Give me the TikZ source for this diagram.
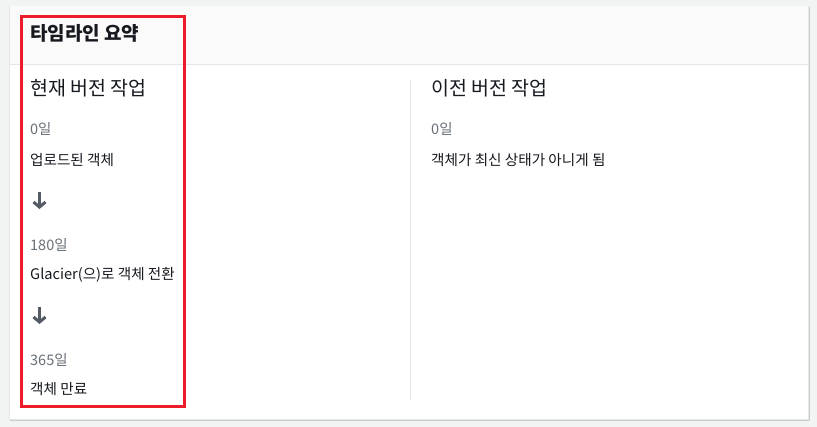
\documentclass[tikz,border=0pt]{standalone}
\usepackage{fontspec}
\setmainfont{Noto Sans CJK KR}
\usetikzlibrary{arrows.meta}

\definecolor{pagegray}{HTML}{F2F3F3}
\definecolor{headgray}{HTML}{FAFAFA}
\definecolor{cardedge}{HTML}{E4E7E7}
\definecolor{cardshadow}{HTML}{C9CDCD}
\definecolor{daygray}{HTML}{687078}
\definecolor{inkblack}{HTML}{16191F}
\definecolor{arrowgray}{HTML}{545B64}
\definecolor{markred}{HTML}{EC1C2A}

\tikzset{
  titletext/.style={anchor=base west,inner sep=0pt,text=inkblack,font=\fontsize{19}{22}\selectfont\bfseries},
  colhead/.style={anchor=base west,inner sep=0pt,text=inkblack,font=\fontsize{19.5}{23}\selectfont},
  daylabel/.style={anchor=base west,inner sep=0pt,text=daygray,font=\fontsize{14.5}{17}\selectfont},
  acttext/.style={anchor=base west,inner sep=0pt,text=inkblack,font=\fontsize{14.6}{18}\selectfont},
  downarrow/.style={draw=arrowgray,line width=3pt,arrows=->,>={Straight Barb[length=5pt,width=12pt]}}
}

\begin{document}
\begin{tikzpicture}[x=1pt,y=-1pt]
  \useasboundingbox[fill=pagegray] (0,0) rectangle (817,427);
  % card
  \fill[cardshadow] (10,7) rectangle (810,421);
  \draw[fill=white,draw=cardedge] (9,6) rectangle (808,419);
  \fill[headgray] (9.5,6.5) rectangle (807.5,64);
  \draw[cardedge] (9,64) -- (808,64);
  \draw[cardedge] (410,80) -- (410,400);

  \node[titletext] (title) at (30,41) {타임라인 요약};

  % current versions
  \node[colhead] (curhead) at (30,96) {현재 버전 작업};
  \node[daylabel] (curday0) at (30,135) {0일};
  \node[acttext] (upload) at (30,166) {업로드된 객체};
  \coordinate (arrowAtop) at (39.5,192);
  \coordinate (arrowAbot) at (39.5,209);
  \draw[downarrow] (arrowAtop) -- (arrowAbot);
  \node[daylabel] (curday180) at (30,251) {180일};
  \node[acttext] (glacier) at (30,280) {Glacier(으)로 객체 전환};
  \coordinate (arrowBtop) at (39.5,307);
  \coordinate (arrowBbot) at (39.5,324);
  \draw[downarrow] (arrowBtop) -- (arrowBbot);
  \node[daylabel] (curday365) at (30,366) {365일};
  \node[acttext] (expire) at (30,395) {객체 만료};

  % noncurrent versions
  \node[colhead] (prevhead) at (431,96) {이전 버전 작업};
  \node[daylabel] (prevday0) at (431,135) {0일};
  \node[acttext] (noncurrent) at (431,166) {객체가 최신 상태가 아니게 됨};

  \draw[markred,line width=3pt] (21.5,16.5) rectangle (184.5,406.5);
\end{tikzpicture}
\end{document}
